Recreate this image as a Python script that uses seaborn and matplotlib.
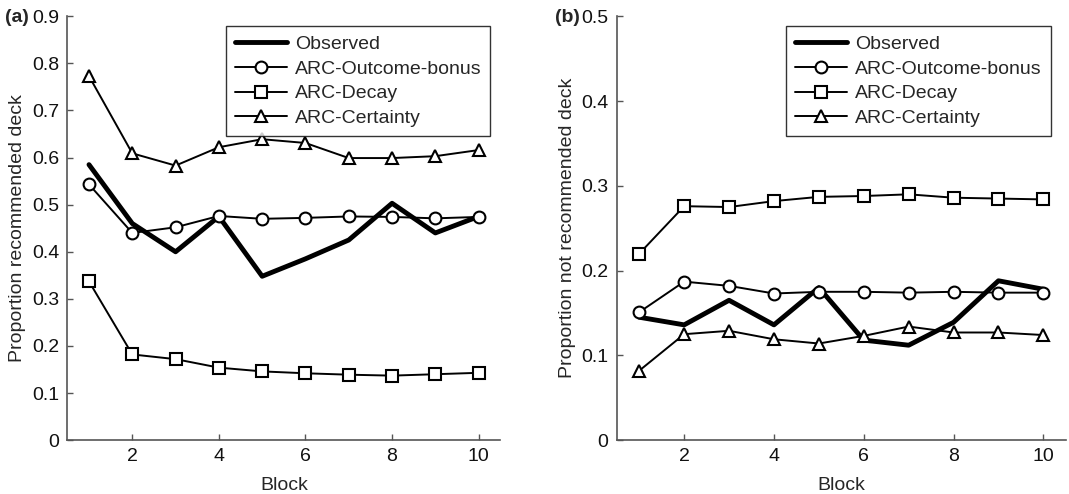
import pandas as pd
import matplotlib
matplotlib.use("Agg")
import matplotlib.pyplot as plt
import seaborn as sns
from matplotlib.ticker import FuncFormatter

sns.set_style("ticks")
plt.rcParams['font.family'] = ['Liberation Sans', 'DejaVu Sans']

# Datos
bloques = [1, 2, 3, 4, 5, 6, 7, 8, 9, 10]
series = ["Observed", "ARC-Outcome-bonus", "ARC-Decay", "ARC-Certainty"]

# (a) Proportion recommended deck
a_observed = [0.585, 0.460, 0.400, 0.475, 0.348, 0.385, 0.425, 0.503, 0.440, 0.475]
a_outcome = [0.543, 0.440, 0.452, 0.476, 0.470, 0.472, 0.475, 0.474, 0.471, 0.474]
a_decay = [0.337, 0.182, 0.172, 0.154, 0.146, 0.142, 0.139, 0.137, 0.140, 0.143]
a_certainty = [0.773, 0.609, 0.583, 0.622, 0.639, 0.631, 0.599, 0.599, 0.603, 0.616]

# (b) Proportion not recommended deck
b_observed = [0.145, 0.136, 0.165, 0.136, 0.180, 0.118, 0.112, 0.139, 0.188, 0.178]
b_outcome = [0.151, 0.187, 0.182, 0.173, 0.175, 0.175, 0.174, 0.175, 0.174, 0.174]
b_decay = [0.220, 0.276, 0.275, 0.282, 0.287, 0.288, 0.290, 0.286, 0.285, 0.284]
b_certainty = [0.082, 0.125, 0.129, 0.119, 0.114, 0.123, 0.134, 0.127, 0.127, 0.124]

estilos = {
    "Observed": dict(lw=3.5, marker=None),
    "ARC-Outcome-bonus": dict(lw=1.4, marker="o"),
    "ARC-Decay": dict(lw=1.4, marker="s"),
    "ARC-Certainty": dict(lw=1.4, marker="^"),
}

fig = plt.figure(figsize=(10.69, 4.94), dpi=100)
ax_a = fig.add_axes([0.063, 0.109, 0.405, 0.858])
ax_b = fig.add_axes([0.577, 0.109, 0.420, 0.858])

paneles = [
    (ax_a, [a_observed, a_outcome, a_decay, a_certainty], 0.9,
     "Proportion recommended deck", "(a)", 0.977),
    (ax_b, [b_observed, b_outcome, b_decay, b_certainty], 0.5,
     "Proportion not recommended deck", "(b)", 0.966),
]

gris = "#555555"
fs = 14
for ax, valores, ymax, ylab, letra, leg_x in paneles:
    for nombre, vals in zip(series, valores):
        e = estilos[nombre]
        sns.lineplot(x=bloques, y=vals, ax=ax, color="black", lw=e["lw"],
                     marker=e["marker"], markersize=8.5, markerfacecolor="white",
                     markeredgecolor="black", markeredgewidth=1.5, label=nombre)
    ax.set_xlim(0.5, 10.5)
    ax.set_ylim(0, ymax)
    ax.set_xticks([2, 4, 6, 8, 10])
    ax.set_yticks([i / 10 for i in range(int(round(ymax * 10)) + 1)])
    ax.yaxis.set_major_formatter(FuncFormatter(lambda v, p: "%g" % round(v, 2)))
    ax.tick_params(direction="in", length=4, width=1, color=gris,
                   labelsize=fs, labelcolor="#111111", pad=6)
    for s in ["top", "right"]:
        ax.spines[s].set_visible(False)
    for s in ["left", "bottom"]:
        ax.spines[s].set_color(gris)
        ax.spines[s].set_linewidth(1.2)
    ax.set_xlabel("Block", fontsize=fs, labelpad=8)
    ax.set_ylabel(ylab, fontsize=fs, labelpad=4)
    leg = ax.legend(loc="upper right", bbox_to_anchor=(leg_x, 0.976),
                    fontsize=fs, handlelength=2.7, frameon=True, fancybox=False,
                    borderpad=0.45, labelspacing=0.37, handletextpad=0.4,
                    borderaxespad=0)
    leg.get_frame().set_edgecolor("black")
    leg.get_frame().set_linewidth(1.0)
    pos = ax.get_position()
    fig.text(pos.x0 - 0.058, 0.965, letra, fontsize=fs, fontweight="bold",
             va="center", ha="left")

plt.savefig("out.png", dpi=100)
